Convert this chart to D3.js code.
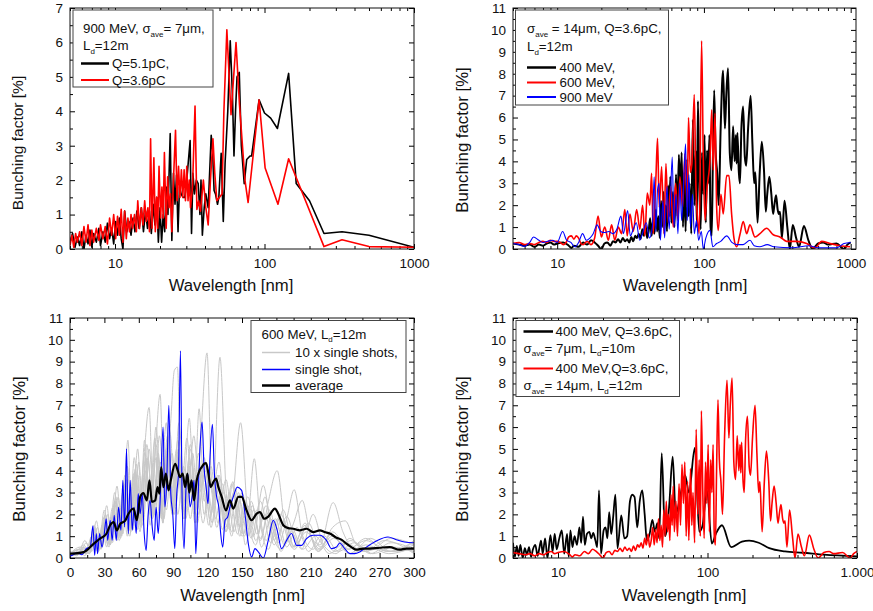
<!DOCTYPE html>
<html>
<head>
<meta charset="utf-8">
<script src="https://cdn.jsdelivr.net/npm/d3@7"></script>
<style>
body { margin: 0; background: #fff; }
svg { font-family: "Liberation Sans", Arial, sans-serif; }
</style>
</head>
<body>
<svg id="chart" width="873" height="611"></svg>
<script>
// ---- data: [wavelength nm, bunching factor %] ----
var p1Q51 = [[5,0.2],[5.2,0.45],[5.4,0.05],[5.6,0.35],[5.8,0.1],[6,0.5],[6.2,0.0],[6.4,0.4],[6.6,0.15],[6.8,0.55],[7,0.05],[7.2,0.45],[7.5,0.2],[7.8,0.6],[8,0.1],[8.3,0.5],[8.6,0.2],[8.9,0.75],[9.2,0.3],[9.5,0.6],[9.8,0.15],[10.1,0.8],[10.4,0.4],[10.7,0.9],[11,0.3],[11.3,0.0],[11.6,1.1],[12,0.5],[12.4,0.8],[12.8,0.4],[13.2,0.9],[13.6,0.5],[14,1.1],[14.5,0.6],[15,1.2],[15.5,0.5],[16,1.1],[16.5,0.6],[17,1.1],[17.5,0.45],[18,1.3],[18.5,0.7],[19,1.5],[19.5,0.2],[20,1.2],[20.5,0.2],[21,1.0],[21.5,0.5],[22,1.8],[22.6,1.0],[23.4,3.35],[24,0.25],[24.6,2.2],[25.2,1.3],[25.8,2.15],[26.4,0.5],[27,1.8],[27.7,1.6],[28.5,1.5],[29.3,1.5],[30.2,2.0],[31.8,3.15],[32.5,0.45],[33.2,2.2],[34,1.6],[35,2.0],[36,1.9],[37,1.0],[37.6,2.0],[38.4,0.4],[39.5,1.2],[40.5,1.6],[42,1.2],[44,3.3],[45,2.8],[46,1.7],[47,1.6],[48.5,1.3],[49.5,1.5],[51.3,2.78],[53,0.8],[54.5,2.5],[56.8,4.0],[59,6.05],[61,4.5],[62.5,2.7],[64,4.0],[65.5,5.0],[67.8,5.13],[70,3.0],[73.2,1.9],[76,2.6],[80,2.7],[82,2.7],[92,4.33],[100,3.95],[110,3.8],[122,3.5],[145,5.1],[163,1.9],[200,1.4],[250,0.45],[330,0.5],[500,0.4],[1000,0.05]];
var p1Q36 = [[5,0.1],[5.15,0.4],[5.3,0.05],[5.45,0.45],[5.6,0.2],[5.8,0.5],[6,0.1],[6.2,0.65],[6.4,0.2],[6.6,0.7],[6.8,0.1],[7,0.55],[7.2,0.2],[7.5,0.6],[7.8,0.25],[8,0.7],[8.3,0.3],[8.6,0.65],[8.9,0.15],[9.2,0.9],[9.5,0.4],[9.8,1.0],[10.1,0.3],[10.4,0.95],[10.7,0.4],[11,1.15],[11.3,0.2],[11.6,1.1],[11.9,0.3],[12.2,0.9],[12.5,0.5],[12.8,1.0],[13.1,0.6],[13.5,1.0],[13.9,0.5],[14.2,1.4],[14.6,0.6],[15,1.2],[15.4,0.7],[15.8,1.4],[16.2,0.8],[16.6,1.2],[17,0.5],[17.3,3.2],[17.7,0.6],[18.2,2.65],[18.6,0.5],[19,1.5],[19.3,0.6],[19.7,2.4],[20.2,0.9],[20.6,1.8],[21,0.9],[21.4,2.8],[22,0.6],[22.5,2.1],[23,1.2],[23.5,1.6],[24,0.5],[24.6,2.0],[25.4,3.45],[26,1.4],[26.6,2.4],[27.2,1.5],[27.8,2.3],[28.4,1.5],[29,2.3],[29.6,1.4],[30.2,2.4],[30.8,1.4],[31.4,2.0],[32,1.2],[33,1.8],[34.3,4.15],[35.3,1.15],[36.3,1.4],[37.3,1.1],[39,2.0],[40.5,1.2],[42,0.7],[43.5,2.0],[45.2,3.2],[46.5,2.2],[48,1.4],[50,1.5],[52,1.6],[53.5,4.0],[56,6.37],[59.7,3.9],[64.5,6.0],[68,4.2],[74,2.0],[77.7,1.35],[92,4.33],[101,2.35],[123,1.3],[145,2.62],[250,0.07],[330,0.27],[500,0.07],[1000,0.05]];

var mev400 = [[5,0.25],[5.5,0.2],[6,0.15],[6.5,0.2],[7,0.1],[7.5,0.2],[8,0.15],[8.5,0.25],[9,0.3],[9.5,0.2],[10,0.25],[11,0.3],[12,0.15],[12.5,0.05],[13,0.15],[14,0.1],[15,0.3],[16,0.2],[17,0.4],[18,0.3],[19,0.15],[20,0.0],[21,0.25],[22,0.3],[23,0.15],[24,0.35],[25,0.3],[26,0.45],[27,0.3],[28,0.5],[29,0.35],[30,0.45],[31,0.3],[32,0.55],[33,0.35],[34,0.6],[35,0.5],[36,0.7],[37,0.45],[38,0.9],[39,0.6],[40,1.1],[41,0.5],[42,0.8],[43,1.4],[44,0.6],[45,1.3],[46,0.7],[47,1.8],[48,0.8],[49,1.5],[50,0.5],[51,2.2],[52,1.0],[53,2.6],[54,1.2],[55,2.0],[56,0.8],[57,2.9],[58,1.5],[59,3.3],[60,1.2],[61.5,2.6],[63,1.0],[64.5,3.4],[66,1.5],[67.5,4.3],[69,2.5],[70.5,4.4],[72,1.0],[73.5,3.5],[75,0.8],[77,4.1],[78.5,1.5],[80,3.0],[82,0.7],[84,5.9],[86,2.0],[88,4.5],[89.5,1.0],[91,6.75],[93,3.0],[95,0.9],[97,4.4],[99,2.5],[101,5.2],[103,1.2],[105,4.5],[107,3.0],[109,5.2],[111,1.0],[113,0.6],[115,4.0],[117.5,7.25],[120,4.5],[123,3.5],[126,2.0],[130,5.5],[135,8.15],[139,5.5],[142,7.0],[146,8.25],[150,4.4],[154,3.6],[158,5.6],[162,4.0],[165,5.2],[167,3.9],[169,5.3],[173,3.5],[176,3.0],[180,5.5],[185,6.5],[190,4.2],[194,3.8],[200,5.5],[208,7.0],[214,4.8],[220,3.0],[224,3.5],[232,1.2],[240,3.5],[248,4.9],[257,3.5],[264,1.7],[270,2.5],[279,3.3],[288,2.5],[296,1.6],[302,2.0],[310,2.45],[318,1.8],[324,1.6],[330,1.7],[340,0.5],[354,2.2],[370,1.0],[385,0.0],[403,1.1],[425,0.5],[445,0.1],[480,1.05],[515,0.4],[550,0.0],[600,0.25],[650,0.3],[700,0.2],[800,0.25],[900,0.0],[950,0.2],[1000,0.3]];
var mev600 = [[5,0.25],[5.5,0.3],[6,0.2],[6.5,0.25],[7,0.2],[7.5,0.3],[8,0.35],[8.5,0.3],[9,0.4],[9.5,0.35],[10,0.35],[10.5,0.3],[11,0.2],[11.5,0.3],[12,0.55],[12.5,0.6],[13,0.45],[13.5,0.6],[14,0.5],[14.5,0.25],[15,0.2],[16,0.35],[17,0.2],[18,0.5],[19,1.5],[20,0.55],[21.1,1.0],[22.3,0.4],[23.5,1.1],[24.7,0.4],[26.1,1.0],[27.5,0.7],[28.9,1.8],[30,0.6],[31.3,1.6],[33,0.8],[34.8,1.8],[36.6,0.9],[38.2,2.0],[39.6,0.6],[41.1,2.55],[42.8,2.0],[44,3.45],[45.1,0.7],[47.1,3.3],[48.3,5.05],[49.6,1.9],[51.5,3.75],[53.4,0.7],[55.1,3.9],[57.1,1.2],[59.3,2.85],[61.8,1.0],[64.1,3.0],[66.5,1.3],[68.6,3.3],[71.6,1.9],[74.2,4.35],[76.9,1.9],[78.5,6.0],[80.8,3.5],[82.8,3.9],[85.9,7.05],[88.2,2.85],[90.6,1.3],[92.9,0.7],[96.4,9.5],[98.9,4.35],[101.6,1.3],[105.3,2.85],[109.9,4.05],[113,6.35],[115.7,3.6],[119,6.2],[122.1,1.9],[125.2,0.85],[130.6,2.5],[135.4,1.6],[142.9,3.35],[148.1,3.35],[154.4,1.6],[160.2,0.5],[167.1,0.1],[175.8,0.65],[185.4,1.25],[195.5,0.7],[205.9,1.1],[222.7,0.55],[240.9,0.7],[267.4,0.95],[296.8,0.65],[329.6,0.55],[366,0.35],[428.5,0.35],[501,0.25],[571,0.05],[634,0.35],[722,0.25],[845,0.15],[989,0.1]];
var mev900 = [[5,0.25],[5.5,0.2],[6,0.12],[6.5,0.3],[6.9,0.55],[7.5,0.4],[8,0.3],[8.6,0.35],[9.3,0.4],[10,0.3],[10.9,0.8],[11.6,0.4],[12.4,0.3],[13.2,0.1],[14,0.3],[14.9,0.7],[15.8,0.4],[16.7,0.5],[17.6,0.7],[18.7,1.1],[19.8,0.8],[21,0.75],[22.5,0.8],[24,0.7],[25.5,0.9],[27.2,1.5],[28.3,0.7],[30.2,1.75],[31.5,0.6],[33,0.9],[34.6,1.2],[36.5,0.4],[38.5,0.8],[40.5,1.2],[42.5,0.5],[44.5,1.0],[45.8,3.3],[47,0.8],[48.3,2.7],[49.5,3.0],[50.5,0.4],[52.5,2.2],[54,0.5],[56,2.85],[58,0.9],[60.8,4.2],[62.5,1.0],[64.5,2.5],[66.5,0.7],[68.5,3.0],[70.5,1.3],[72.5,2.8],[75,4.8],[77,1.3],[79,3.4],[81,1.0],[83.5,2.5],[86,0.7],[89,1.3],[92,0.4],[96,0.8],[99,0.0],[103,0.5],[110,0.85],[115,0.1],[122,0.25],[130,0.35],[143,0.6],[155,0.3],[168,0.2],[185,0.2],[206,0.4],[220,0.15],[240,0.1],[270,0.2],[300,0.1],[400,0.05],[520,0.15],[600,0.05],[800,0.05],[900,0.25],[1000,0.3]];

var shot1 = [[0,0.2],[8,0.4],[14,0.2],[20,1.1],[24,0.4],[29,1.6],[33,0.6],[38,2.2],[42,0.9],[47,3.1],[51,1.2],[56,3.9],[60,1.5],[65,4.8],[69,2.0],[74,5.5],[78,1.8],[84,6.2],[88,2.6],[93,5.0],[98,2.2],[104,6.4],[109,2.0],[114,5.5],[119.5,9.4],[124,3.0],[130,4.4],[136,1.2],[142,3.5],[148,1.0],[155,2.4],[162,0.8],[170,2.0],[178,0.6],[187,1.6],[196,0.5],[206,1.2],[218,0.4],[230,0.9],[245,0.2],[260,0.5],[280,0.3],[300,0.4]];
var shot2 = [[0,0.1],[6,0.3],[12,0.6],[17,0.2],[22,1.4],[26,0.5],[31,2.0],[35,0.8],[40,2.8],[44,1.0],[49,3.6],[53,1.4],[58,4.3],[62,1.6],[67,5.2],[72,2.2],[77,4.6],[82,1.8],[87,5.8],[92,2.4],[97,4.2],[102,2.6],[108,5.6],[113,3.0],[118,4.0],[124,2.2],[130.8,9.2],[136,3.2],[141,1.0],[147,3.0],[153,0.6],[160,2.2],[167,0.5],[175,1.8],[184,0.3],[193,1.4],[203,0.4],[214,1.0],[226,0.2],[240,0.7],[256,0.3],[275,0.5],[300,0.3]];
var shot3 = [[0,0.3],[7,0.2],[13,0.8],[18,0.3],[23,1.7],[27,0.6],[32,2.4],[36,0.9],[41,3.3],[45,1.2],[50,4.2],[54,1.6],[59,5.0],[63,2.0],[68,4.4],[73,1.9],[78,5.6],[83,2.5],[88,6.4],[91,8.6],[93.7,8.75],[97,3.0],[102,5.5],[107,2.4],[112,4.8],[117,2.0],[123,4.2],[129,1.6],[136,3.6],[143,1.2],[150,3.0],[158,0.9],[166,2.6],[175,0.7],[184,2.0],[194,0.5],[205,1.5],[216,0.4],[229,1.0],[243,0.2],[258,0.6],[278,0.2],[300,0.5]];
var shot4 = [[0,0.2],[9,0.5],[15,0.3],[21,1.3],[25,0.5],[30,1.9],[34,0.7],[39,2.6],[43,1.0],[48,3.4],[52,1.3],[57,4.1],[61,1.7],[66,4.6],[70,2.1],[74.5,5.0],[78.6,7.5],[82,2.6],[86,5.2],[90,2.2],[95,4.6],[100,2.0],[105,5.0],[110,2.4],[116,4.2],[122,1.8],[128,3.6],[135,1.4],[142,2.8],[148.8,6.2],[155,2.0],[162,0.6],[170,2.8],[178,0.8],[186,2.2],[195,0.5],[205,1.6],[216,0.3],[228,1.1],[242,0.4],[258,0.8],[278,0.3],[300,0.6]];
var shot5 = [[0,0.1],[8,0.3],[13,0.1],[19,1.0],[24,0.3],[28,1.5],[32,0.5],[37,2.3],[41,0.8],[46,3.0],[50,1.0],[55,3.7],[59,1.3],[64,4.3],[69,6.9],[73,2.0],[77,4.8],[81,1.6],[85,5.4],[90,2.0],[95,5.0],[100,1.8],[106,4.4],[111,1.6],[117,3.8],[123,1.4],[129,3.4],[136,1.2],[143,3.0],[150,1.0],[156,2.2],[160.7,4.55],[166,1.6],[173,0.4],[181,1.8],[189,0.5],[198,1.4],[208,0.3],[219,1.0],[231,0.3],[245,0.8],[262,0.2],[280,0.7],[300,0.4]];
var shot6 = [[0,0.2],[10,0.4],[16,0.2],[22,1.2],[27,0.4],[31,1.8],[35,0.6],[40,2.4],[44,0.9],[49,3.2],[53,1.2],[57,3.8],[62,1.4],[66,4.4],[71,1.8],[75,5.2],[80,2.2],[85,4.8],[89,2.0],[94,5.4],[99,2.4],[104,4.6],[108,2.2],[112.6,6.84],[117,2.6],[122,4.0],[127,1.8],[133,3.4],[139,1.3],[145,2.8],[152,1.0],[159,2.4],[166,0.8],[173,2.6],[180.7,4.0],[188,1.2],[196,0.4],[206,1.4],[217,0.3],[229,1.2],[243,0.4],[258,0.9],[276,0.3],[300,0.7]];
var shot7 = [[0,0.1],[7,0.2],[12,0.5],[17,0.2],[22,1.1],[26,0.4],[31,1.7],[35,0.6],[40,2.6],[45,1.0],[50.5,5.4],[54,1.4],[59,3.8],[63,1.5],[68,4.6],[72,1.8],[77,4.2],[81,1.6],[86,5.0],[91,2.0],[96,4.4],[101,1.8],[107,4.8],[112,2.0],[118,4.4],[124,1.6],[130,3.8],[137,1.4],[144,3.2],[151,1.1],[158,2.6],[166,0.9],[174,2.2],[182,0.7],[189,1.8],[195.5,3.13],[203,1.0],[212,0.4],[222,1.0],[234,0.3],[248,0.7],[264,0.2],[282,0.5],[300,0.3]];
var shot8 = [[0,0.2],[9,0.2],[14,0.7],[19,0.3],[24,1.4],[28,0.5],[33,2.0],[37,0.7],[42,2.8],[46,1.1],[51,3.6],[55,1.3],[60,4.4],[64,1.7],[69,5.0],[74,2.0],[79,4.4],[84,2.2],[89,4.8],[94,2.0],[99,4.2],[105,1.8],[110,3.8],[116,1.6],[122,3.4],[128,1.4],[134,3.0],[141,1.2],[148,2.6],[155,1.0],[163,2.2],[171,0.8],[179,1.8],[187,0.6],[195,1.6],[202.5,2.64],[210,1.0],[218,0.6],[229.5,2.54],[238,1.2],[248,0.4],[262,0.9],[280,0.3],[300,0.8]];
var shot9 = [[0,0.1],[8,0.4],[14,0.2],[20,0.9],[25,0.3],[29,1.4],[34,0.5],[38,2.0],[43,0.8],[47,2.8],[52,1.0],[57,3.4],[61,1.2],[66,4.0],[70,1.5],[75,4.6],[80,1.8],[84,5.0],[89,2.1],[94,4.6],[99,1.8],[104,4.2],[109,1.6],[115,3.8],[121,1.5],[127,3.4],[133,1.3],[139,3.0],[146,1.1],[153,2.6],[160,1.0],[168.5,3.33],[176,1.2],[184,0.4],[193,1.2],[202,0.4],[212,2.0],[221,0.6],[232,0.2],[244,0.9],[258,0.3],[274,0.8],[300,0.2]];
var shot10 = [[0,0.3],[6,0.1],[11,0.5],[16,0.3],[21,1.5],[25,0.6],[30,2.2],[34,0.8],[39,3.0],[43,1.1],[48,3.8],[52,1.4],[56,4.6],[61,1.7],[65,5.4],[70,2.0],[75,6.0],[80,2.4],[85,5.6],[90,2.2],[95,6.2],[100,2.6],[105,5.2],[111,2.2],[117,4.6],[123,2.0],[129,3.8],[135,1.6],[141,3.4],[148,1.4],[155,2.8],[163,1.1],[171,2.4],[180,0.9],[189,1.9],[198,0.7],[208,1.6],[218,0.5],[229,1.4],[240,1.7],[250,0.6],[262,0.4],[280,0.9],[300,0.6]];
var singleShot = [[0,0.1],[1.7,0.12],[6,0.23],[10.4,0.15],[14.2,0.43],[17.7,0.5],[20,1.48],[21.5,0.12],[23,1.12],[24,0.2],[25.8,1.12],[27.9,0.5],[29.9,1.12],[31.6,1.8],[32.8,0.81],[35.1,1.73],[36.8,0.81],[38.6,1.96],[40.3,0.81],[42.4,2.34],[44.4,1.27],[46.1,3.56],[47.6,1.42],[49.3,5.0],[50.8,1.12],[52.5,3.56],[54.3,1.27],[56,2.34],[57.7,1.12],[59.5,2.95],[61.2,2.03],[63,2.95],[64.7,1.12],[66.4,0.35],[68.2,2.03],[69.9,2.64],[71.7,1.42],[73.4,0.81],[75.1,2.34],[76.9,1.12],[78.6,2.64],[81.2,6.0],[82.7,2.34],[84.4,3.56],[86.2,7.0],[87.9,2.95],[89.6,2.03],[91.4,0.43],[93.1,2.95],[94.6,3.87],[96.3,9.5],[97.8,2.64],[99.5,0.43],[101.2,3.25],[102.7,3.87],[104.7,2.34],[106.5,2.8],[108.2,3.56],[109.7,0.2],[111.4,2.34],[113.4,5.09],[115.2,6.23],[116.9,4.17],[118.7,3.25],[120.4,2.49],[122.1,4.63],[124.2,6.13],[125.9,3.87],[127.9,2.8],[129.7,2.34],[131.4,1.12],[133.2,0.5],[135.2,1.73],[137.5,1.88],[139.5,2.34],[142.4,2.8],[145.9,3.25],[149.7,3.1],[152.6,2.03],[155.5,0.66],[158.4,0.05],[161.3,0.43],[164.2,0.28],[168.6,0.0],[172.9,0.81],[177.3,1.73],[180.7,1.27],[184.5,0.43],[188.9,0.81],[193.2,1.12],[197.6,0.58],[201.9,0.58],[206.3,0.89],[212,1.04],[217.9,1.04],[223.7,0.81],[228,0.43],[232.4,0.5],[235.3,0.69],[239.6,0.43],[244,0.2],[248.3,0.2],[252.7,0.28],[258.5,0.5],[267.2,0.78],[277.3,0.96],[284.6,0.84],[291.8,0.73],[300,0.7]];
var average = [[0,0.2],[1.7,0.2],[12,0.27],[20.6,0.65],[26.4,0.9],[31.6,1.1],[35,1.5],[38,1.65],[40.9,1.27],[43.8,1.57],[48,1.7],[51,2.03],[55.4,2.26],[58.3,1.73],[61.2,2.8],[64,2.98],[67,2.64],[69.3,3.56],[71.4,2.57],[74.3,2.64],[76.3,3.25],[78,2.95],[79.5,4.17],[81.5,3.25],[83.6,3.87],[85.9,3.1],[87.9,3.56],[91.7,4.32],[94,4.0],[96,3.7],[98.3,3.87],[100.4,3.25],[102.4,3.87],[104,3.0],[106,3.56],[108.2,2.64],[110.5,3.56],[112.9,4.0],[114.9,4.17],[117,4.32],[118.7,4.35],[120.7,3.87],[122.7,3.25],[125,3.48],[127.4,3.64],[129.4,3.25],[132.3,2.8],[136,2.18],[139.5,2.64],[142.4,2.26],[146.8,2.8],[149.7,2.8],[154,2.18],[158.4,1.73],[162.8,2.03],[165.6,2.1],[169.4,1.8],[172.9,1.9],[178.7,2.26],[181.6,2.03],[186,1.5],[190.3,1.37],[194.7,1.34],[200.5,1.27],[206.3,1.34],[212,1.19],[217.9,1.27],[222,1.19],[226.6,1.12],[232.4,0.93],[236.7,0.84],[241,0.66],[245.4,0.5],[249.8,0.38],[255.6,0.43],[261.4,0.43],[270,0.47],[278.8,0.5],[287.5,0.38],[293.3,0.43],[300,0.43]];

var p4Ld10 = [[5,0.7],[5.15,0.05],[5.3,0.55],[5.45,0.1],[5.6,0.6],[5.8,0.0],[6,0.45],[6.2,0.15],[6.4,0.5],[6.6,0.05],[6.8,0.4],[7.05,0.6],[7.3,0.1],[7.5,0.45],[7.7,0.8],[7.9,0.2],[8.2,0.9],[8.5,0.0],[8.9,1.05],[9.2,0.3],[9.5,1.1],[9.8,0.4],[10.2,0.9],[10.6,1.27],[11,0.2],[11.5,1.1],[11.8,0.05],[12.1,1.27],[12.5,0.5],[12.9,1.0],[13.4,0.6],[13.9,1.4],[14.3,0.7],[14.7,1.9],[15.1,0.6],[15.6,1.1],[16.2,1.2],[16.7,0.9],[17.2,1.15],[17.8,0.8],[18.3,0.5],[18.8,3.1],[19.4,0.2],[20.2,1.27],[20.8,1.4],[21.4,0.9],[22,2.1],[22.7,1.1],[23.4,1.9],[24.2,2.9],[25,0.45],[26.5,1.95],[27.8,0.9],[29,1.0],[30.3,2.6],[31.4,2.9],[32.5,2.8],[33.9,1.4],[35.2,2.6],[36.6,3.1],[38,2.0],[39.3,0.8],[41,1.1],[42.8,1.75],[44.5,1.2],[46.2,1.6],[47.5,0.9],[49.4,4.8],[52,1.0],[55.3,2.3],[58.5,4.65],[61.3,2.0],[66.2,2.95],[70.7,3.8],[75.2,3.0],[82.2,5.05],[88.1,1.2],[92.4,1.45],[99.3,3.1],[106.8,0.66],[113.6,1.1],[125,1.5],[144,0.5],[170,0.75],[190,0.8],[220,0.7],[259,0.45],[330,0.3],[433,0.24],[600,0.15],[1000,0.07]];

// ticks
var logMajor = [10, 100, 1000];
var linMajor = [0, 30, 60, 90, 120, 150, 180, 210, 240, 270, 300];
var yMajor7 = [0, 1, 2, 3, 4, 5, 6, 7];
var yMajor11 = [0, 1, 2, 3, 4, 5, 6, 7, 8, 9, 10, 11];

var svg = d3.select("#chart");

// text with _{sub} parts
function richText(sel, str, size) {
    var parts = str.split(/(_\{[^}]*\})/);
    var down = false;
    parts.forEach(function(p) {
        if (!p) return;
        if (p.indexOf("_{") === 0) {
            sel.append("tspan").attr("font-size", size * 0.6).attr("dy", 3.5).text(p.slice(2, -1));
            down = true;
        } else {
            sel.append("tspan").attr("dy", down ? -3.5 : 0).text(p);
            down = false;
        }
    });
}

function drawPanel(cfg, idx) {
    var g = svg.append("g");
    var x = cfg.log ? d3.scaleLog() : d3.scaleLinear();
    x.domain(cfg.xDomain).range([cfg.left, cfg.right]);
    var y = d3.scaleLinear().domain(cfg.yDomain).range([cfg.bottom, cfg.top]);

    var xMinor = [];
    if (cfg.log) {
        [1, 10, 100, 1000].forEach(function(d) {
            for (var m = 2; m <= 9; m++) {
                var v = m * d;
                if (v >= cfg.xDomain[0] && v <= cfg.xDomain[1]) xMinor.push(v);
            }
        });
    } else {
        for (var v = 15; v < cfg.xDomain[1]; v += 30) xMinor.push(v);
    }
    var yMinor = [];
    for (var k = 0.5; k < cfg.yDomain[1]; k += 1) yMinor.push(k);
    var xMajor = cfg.xTicks.filter(function(d) { return d <= cfg.xDomain[1]; });

    function clean(a) {
        a.select(".domain").remove();
        a.attr("font-size", 13.5).attr("font-family", null);
        a.selectAll("text").attr("fill", "#111");
    }

    g.append("g").attr("transform", "translate(0," + cfg.bottom + ")")
        .call(d3.axisBottom(x).tickValues(xMajor).tickSize(-5).tickPadding(9).tickFormat(cfg.xFormat)).call(clean);
    g.append("g").attr("transform", "translate(0," + cfg.bottom + ")")
        .call(d3.axisBottom(x).tickValues(xMinor).tickSize(-3).tickFormat("")).call(clean);
    g.append("g").attr("transform", "translate(0," + cfg.top + ")")
        .call(d3.axisTop(x).tickValues(xMajor).tickSize(-5).tickFormat("")).call(clean);
    g.append("g").attr("transform", "translate(0," + cfg.top + ")")
        .call(d3.axisTop(x).tickValues(xMinor).tickSize(-3).tickFormat("")).call(clean);
    g.append("g").attr("transform", "translate(" + cfg.left + ",0)")
        .call(d3.axisLeft(y).tickValues(cfg.yTicks).tickSize(-5).tickPadding(7).tickFormat(d3.format("d"))).call(clean);
    g.append("g").attr("transform", "translate(" + cfg.left + ",0)")
        .call(d3.axisLeft(y).tickValues(yMinor).tickSize(-3).tickFormat("")).call(clean);
    g.append("g").attr("transform", "translate(" + cfg.right + ",0)")
        .call(d3.axisRight(y).tickValues(cfg.yTicks).tickSize(-5).tickFormat("")).call(clean);
    g.append("g").attr("transform", "translate(" + cfg.right + ",0)")
        .call(d3.axisRight(y).tickValues(yMinor).tickSize(-3).tickFormat("")).call(clean);

    var clipId = "clip" + idx;
    g.append("clipPath").attr("id", clipId).append("rect")
        .attr("x", cfg.left).attr("y", cfg.top)
        .attr("width", cfg.right - cfg.left).attr("height", cfg.bottom - cfg.top);

    var lines = g.append("g").attr("clip-path", "url(#" + clipId + ")");
    cfg.series.forEach(function(s) {
        var line = d3.line()
            .x(function(d) { return x(d[0]); })
            .y(function(d) { return y(d[1]); })
            .curve(s.curve || cfg.curve);
        lines.append("path").datum(s.data)
            .attr("d", line)
            .attr("fill", "none")
            .attr("stroke", s.color)
            .attr("stroke-width", s.width)
            .attr("stroke-linejoin", "round");
    });

    g.append("rect")
        .attr("x", cfg.left).attr("y", cfg.top)
        .attr("width", cfg.right - cfg.left).attr("height", cfg.bottom - cfg.top)
        .attr("fill", "none").attr("stroke", "#111").attr("stroke-width", 1);

    // axis titles
    g.append("text")
        .attr("x", cfg.xTitle[0]).attr("y", cfg.xTitle[1])
        .attr("text-anchor", "middle").attr("font-size", 16.7).attr("fill", "#111")
        .text("Wavelength [nm]");
    g.append("text")
        .attr("transform", "translate(" + cfg.yTitle[0] + "," + cfg.yTitle[1] + ") rotate(-90)")
        .attr("text-anchor", "middle").attr("dy", "0.35em").attr("font-size", cfg.yTitle[2]).attr("fill", "#111")
        .text("Bunching factor [%]");

    // legend
    var lg = cfg.legend;
    g.append("rect").attr("x", lg.box[0]).attr("y", lg.box[1]).attr("width", lg.box[2]).attr("height", lg.box[3])
        .attr("fill", "#fff").attr("stroke", "#444").attr("stroke-width", 1);
    lg.rows.forEach(function(r) {
        var tx = r.x;
        if (r.color) {
            g.append("line")
                .attr("x1", lg.sample[0]).attr("x2", lg.sample[1])
                .attr("y1", r.y - 4.5).attr("y2", r.y - 4.5)
                .attr("stroke", r.color).attr("stroke-width", r.lw);
            tx = lg.textX;
        }
        var t = g.append("text").attr("x", tx).attr("y", r.y).attr("font-size", 13.3).attr("fill", "#111");
        richText(t, r.text, 13.3);
    });
}

var linear = d3.curveLinear, smooth = d3.curveMonotoneX;

var panels = [
    {
        left: 70, right: 414, top: 8, bottom: 249, log: true,
        xDomain: [5, 1000], yDomain: [0, 7], xTicks: logMajor, yTicks: yMajor7,
        xFormat: d3.format("d"), curve: linear,
        xTitle: [231, 291], yTitle: [18, 143, 15.5],
        series: [
            { data: p1Q51, color: "#000", width: 1.6 },
            { data: p1Q36, color: "#ff0000", width: 1.6 }
        ],
        legend: {
            box: [73, 10, 140, 77], sample: [81, 109], textX: 112,
            rows: [
                { y: 33, x: 83, text: "900 MeV, σ_{ave}= 7μm," },
                { y: 50, x: 83, text: "L_{d}=12m" },
                { y: 68, color: "#000", lw: 2.5, text: "Q=5.1pC," },
                { y: 84.5, color: "#ff0000", lw: 2, text: "Q=3.6pC" }
            ]
        }
    },
    {
        left: 513, right: 856, top: 8, bottom: 249, log: true,
        xDomain: [5, 1087], yDomain: [0, 11], xTicks: logMajor, yTicks: yMajor11,
        xFormat: d3.format("d"), curve: smooth,
        xTitle: [685, 291], yTitle: [462, 140, 16.8],
        series: [
            { data: mev400, color: "#000", width: 2 },
            { data: mev600, color: "#ff0000", width: 1.6 },
            { data: mev900, color: "#0000ff", width: 1.1 }
        ],
        legend: {
            box: [515.5, 10, 153, 95], sample: [527, 556], textX: 559.5,
            rows: [
                { y: 33, x: 527, text: "σ_{ave} = 14μm, Q=3.6pC," },
                { y: 51, x: 527, text: "L_{d}=12m" },
                { y: 72, color: "#000", lw: 2.5, text: "400 MeV," },
                { y: 87, color: "#ff0000", lw: 2, text: "600 MeV," },
                { y: 101.5, color: "#0000ff", lw: 2, text: "900 MeV" }
            ]
        }
    },
    {
        left: 70, right: 414, top: 318, bottom: 558, log: false,
        xDomain: [0, 300], yDomain: [0, 11], xTicks: linMajor, yTicks: yMajor11,
        xFormat: d3.format("d"), curve: smooth,
        xTitle: [242.5, 601], yTitle: [19, 449, 16.8],
        series: [
            { data: shot1, color: "#c8c8c8", width: 1 },
            { data: shot2, color: "#c8c8c8", width: 1 },
            { data: shot3, color: "#c8c8c8", width: 1 },
            { data: shot4, color: "#c8c8c8", width: 1 },
            { data: shot5, color: "#c8c8c8", width: 1 },
            { data: shot6, color: "#c8c8c8", width: 1 },
            { data: shot7, color: "#c8c8c8", width: 1 },
            { data: shot8, color: "#c8c8c8", width: 1 },
            { data: shot9, color: "#c8c8c8", width: 1 },
            { data: shot10, color: "#c8c8c8", width: 1 },
            { data: singleShot, color: "#0000ff", width: 1.1 },
            { data: average, color: "#000", width: 2.2 }
        ],
        legend: {
            box: [251, 320.5, 155, 72], sample: [262, 290], textX: 295,
            rows: [
                { y: 338.5, x: 261.5, text: "600 MeV, L_{d}=12m" },
                { y: 357, color: "#c8c8c8", lw: 1.5, text: "10 x single shots," },
                { y: 374, color: "#0000ff", lw: 1.5, text: "single shot," },
                { y: 390, color: "#000", lw: 2.5, text: "average" }
            ]
        }
    },
    {
        left: 513, right: 857, top: 318, bottom: 558, log: true,
        xDomain: [5, 1000], yDomain: [0, 11], xTicks: logMajor, yTicks: yMajor11,
        xFormat: function(d) { return d === 1000 ? "1.000" : String(d); }, curve: smooth,
        xTitle: [684, 601], yTitle: [462, 449, 16.8],
        series: [
            { data: p4Ld10, color: "#000", width: 1.8 },
            { data: mev400, color: "#ff0000", width: 1.6 }
        ],
        legend: {
            box: [516, 320.5, 163.5, 76], sample: [523.5, 553], textX: 555.5,
            rows: [
                { y: 336, color: "#000", lw: 2.5, text: "400 MeV, Q=3.6pC," },
                { y: 352.5, x: 523.5, text: "σ_{ave}= 7μm, L_{d}=10m" },
                { y: 373, color: "#ff0000", lw: 2, text: "400 MeV,Q=3.6pC," },
                { y: 390, x: 523.5, text: "σ_{ave}= 14μm, L_{d}=12m" }
            ]
        }
    }
];

panels.forEach(drawPanel);
</script>
</body>
</html>
